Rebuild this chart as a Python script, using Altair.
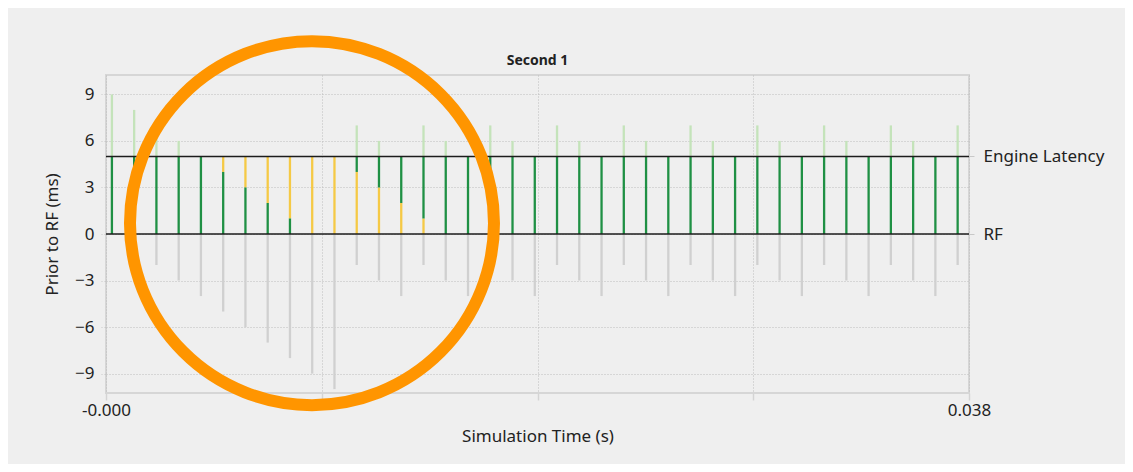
import altair as alt
import pandas as pd

# ---------------- data ----------------
frame_time = [0.00026, 0.00124, 0.00222, 0.00320, 0.00418, 0.00516, 0.00614, 0.00712,
              0.00810, 0.00908, 0.01006, 0.01104, 0.01202, 0.01300, 0.01398, 0.01496,
              0.01594, 0.01692, 0.01790, 0.01888, 0.01986, 0.02084, 0.02182, 0.02280,
              0.02378, 0.02476, 0.02574, 0.02672, 0.02770, 0.02868, 0.02966, 0.03064,
              0.03162, 0.03260, 0.03358, 0.03456, 0.03554, 0.03652, 0.03750]
frame_top = [9, 8, 7, 6, 5, 4, 3, 2, 1, 0, -1,
             7, 6, 5, 7, 6, 5, 7, 6, 5, 7, 6, 5, 7, 6, 5, 7, 6, 5,
             7, 6, 5, 7, 6, 5, 7, 6, 5, 7]
frame_bottom = [0, -1, -2, -3, -4, -5, -6, -7, -8, -9, -10,
                -2, -3, -4, -2, -3, -4, -2, -3, -4, -2, -3, -4, -2, -3, -4, -2, -3, -4,
                -2, -3, -4, -2, -3, -4, -2, -3, -4, -2]
late_lo = [None, None, None, None, None, 4, 3, 2, 1, 0, 0,
           0, 0, 0, 0] + [None] * 24
late_hi = [None, None, None, None, None, 5, 5, 5, 5, 5, 5,
           4, 3, 2, 1] + [None] * 24

ref_levels = [0, 5]
ref_labels = ["RF", "Engine Latency"]

x_tick_values = [0.0, 0.0095, 0.019, 0.0285, 0.038]
x_tick_labels = ["-0.000", "", "", "", "0.038"]
y_tick_values = [-9, -6, -3, 0, 3, 6, 9]

chart_title = ["Second 1"]
title_t = [0.019]

highlight_t = [0.00907]
highlight_y = [0.7]

kinds = ["early", "on", "late", "prior"]
kind_colors = ["#c4e3ba", "#1f9044", "#f5c945", "#d0d0d0"]

# ---------------- build segments ----------------
ENGINE = ref_levels[1]
RF = ref_levels[0]
rows = []
for t, top, bot, lo, hi in zip(frame_time, frame_top, frame_bottom, late_lo, late_hi):
    if top > ENGINE:
        rows.append(dict(t=t, y=ENGINE, y2=top, kind="early"))
    wb, wt = max(bot, RF), min(top, ENGINE)
    if lo is None:
        pieces = [(wb, wt)]
    else:
        rows.append(dict(t=t, y=lo, y2=hi, kind="late"))
        pieces = [(wb, min(wt, lo)), (max(wb, hi), wt)]
    for a, b in pieces:
        if b > a:
            rows.append(dict(t=t, y=a, y2=b, kind="on"))
    if bot < RF:
        rows.append(dict(t=t, y=bot, y2=RF, kind="prior"))
seg_df = pd.DataFrame(rows)
ref_df = pd.DataFrame({"y": ref_levels, "label": ref_labels})
hl_df = pd.DataFrame({"t": highlight_t, "y": highlight_y})
title_df = pd.DataFrame({"t": title_t, "label": chart_title})

FONT = "Noto Sans"
FS = 17

label_expr = " : ".join(
    [f"abs(datum.value - {v}) < 1e-6 ? '{l}'" for v, l in zip(x_tick_values, x_tick_labels)] + ["''"]
)
right_expr = " : ".join(
    [f"datum.value == {v} ? '{l}'" for v, l in zip(ref_levels, ref_labels)] + ["''"]
)

x_scale = alt.Scale(domain=[0, 0.038], nice=False, zero=False)
y_scale = alt.Scale(domain=[-10.25, 10.25], nice=False, zero=False)

x_axis = alt.Axis(values=x_tick_values, labelExpr=label_expr, grid=True,
                  gridDash=[1, 2], gridColor="#bdbdbd", gridWidth=1,
                  tickColor="#d4d4d4", tickSize=7, tickWidth=1.5, domain=False,
                  labelFontSize=FS, labelColor="#222222", labelPadding=2,
                  labelFlush=False, labelOverlap=False, labelFont=FONT,
                  title="Simulation Time (s)", titleFontSize=FS, titleFont=FONT,
                  titleFontWeight="normal", titleColor="#222222", titlePadding=10)
x_enc = alt.X("t:Q", scale=x_scale, axis=x_axis)

y_axis_left = alt.Axis(values=y_tick_values, orient="left", grid=True, gridDash=[1, 2],
                       gridColor="#bdbdbd", gridWidth=1, tickColor="#c8c8c8",
                       tickSize=5, tickDash=[2, 2], domain=False, labelFontSize=FS,
                       labelColor="#222222", labelPadding=7, labelFont=FONT,
                       labelFlush=False, title="Prior to RF (ms)", titleFontSize=FS,
                       titleFont=FONT, titleFontWeight="normal", titleColor="#222222",
                       titlePadding=13)

bars = alt.Chart(seg_df).mark_rule(strokeWidth=2.3).encode(
    x=x_enc,
    y=alt.Y("y:Q", scale=y_scale, axis=y_axis_left),
    y2="y2:Q",
    color=alt.Color("kind:N", scale=alt.Scale(domain=kinds, range=kind_colors), legend=None),
)

ref_rules = alt.Chart(ref_df).mark_rule(color="#1c1c1c", strokeWidth=1.6).encode(
    y=alt.Y("y:Q", scale=y_scale,
            axis=alt.Axis(orient="right", values=ref_levels, labelExpr=right_expr,
                          grid=False, domain=False, tickColor="#c8c8c8", tickSize=5,
                          labelFontSize=FS, labelColor="#222222", labelPadding=9,
                          labelFont=FONT, title=None)),
)

ring = alt.Chart(hl_df).mark_point(shape="circle", filled=False, size=132496,
                                   strokeWidth=12, color="#ff9500", opacity=1).encode(
    x=x_enc,
    y=alt.Y("y:Q", scale=y_scale, axis=None),
)

title_mark = alt.Chart(title_df).mark_text(font=FONT, fontSize=14, fontWeight="bold",
                                           color="#222222", baseline="middle",
                                           align="center").encode(
    x=x_enc,
    y=alt.value(-14),
    text="label:N",
)

chart = alt.layer(bars, ref_rules, ring, title_mark).resolve_axis(y="independent").properties(
    width=863, height=318,
    autosize=alt.AutoSizeParams(type="none"),
    padding={"left": 98, "top": 67, "right": 156, "bottom": 71},
    background="#efefef",
).configure_view(stroke="#d6d6d6", strokeWidth=2)

chart.save("out.html", embed_options={"renderer": "svg", "actions": False})
